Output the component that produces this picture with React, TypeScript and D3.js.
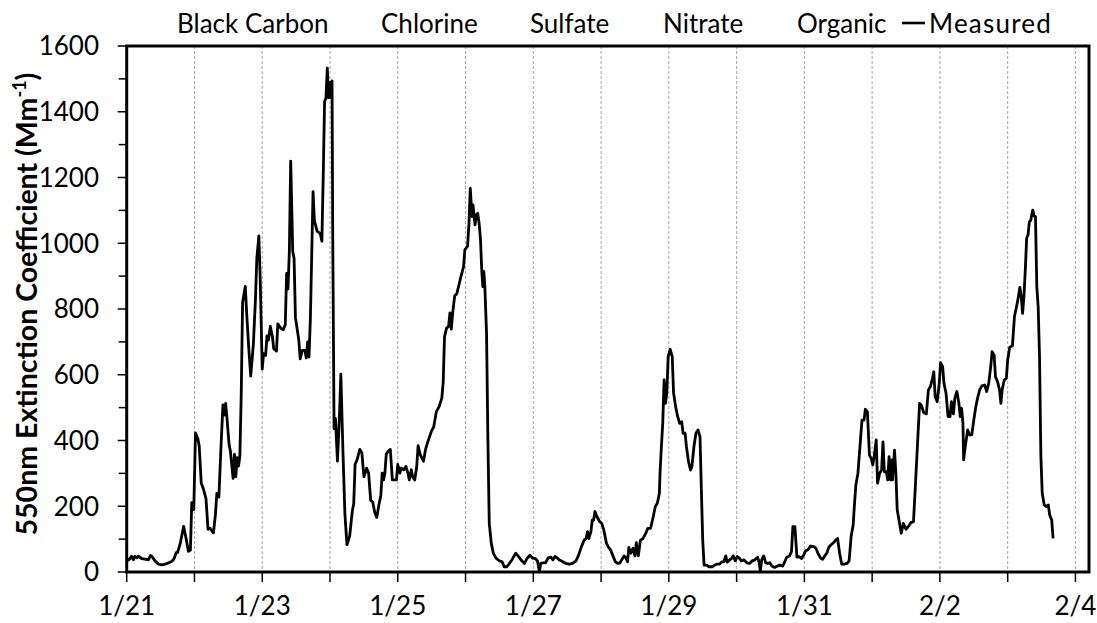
import React from 'react';
import * as d3 from 'd3';

// Time axis is expressed in days after 1/21 00:00.
const dayOffsets = [
  0.01, 0.05, 0.07, 0.10, 0.12, 0.15, 0.17, 0.22, 0.27, 0.32, 0.35, 0.37, 0.42, 0.47, 0.52, 0.57, 0.62, 0.67, 0.70, 0.73,
  0.75, 0.79, 0.84, 0.88, 0.91, 0.94, 0.96, 0.99,
  1.015, 1.05, 1.07, 1.10, 1.13, 1.17, 1.20, 1.23, 1.26, 1.28, 1.31, 1.33, 1.36, 1.39, 1.42, 1.44, 1.46, 1.48, 1.51, 1.53,
  1.57, 1.59, 1.61, 1.63, 1.65, 1.67, 1.69, 1.71, 1.75, 1.77, 1.80, 1.83, 1.87, 1.90, 1.92, 1.95, 1.97, 2.00, 2.02, 2.05,
  2.07, 2.09, 2.12, 2.15, 2.17, 2.21, 2.23, 2.27, 2.31, 2.34, 2.36, 2.38, 2.40, 2.42, 2.45, 2.47, 2.49, 2.51, 2.54, 2.56,
  2.59, 2.63, 2.65, 2.67, 2.69, 2.71, 2.75, 2.77, 2.81, 2.84, 2.86, 2.88, 2.90, 2.92, 2.94, 2.96, 2.98, 3.00, 3.02, 3.03,
  3.04, 3.06, 3.08, 3.11, 3.14, 3.16, 3.19, 3.22, 3.25, 3.29, 3.33, 3.35, 3.37, 3.40, 3.44, 3.47, 3.50, 3.52, 3.54, 3.57,
  3.60, 3.63, 3.66, 3.69, 3.72, 3.75, 3.77, 3.79, 3.81, 3.83, 3.86, 3.89, 3.92, 3.96, 3.98, 4.00, 4.03, 4.05, 4.09, 4.12,
  4.15, 4.17, 4.20, 4.22, 4.25, 4.28, 4.30, 4.33, 4.38, 4.41, 4.44, 4.50, 4.53, 4.57, 4.61, 4.65, 4.67, 4.69, 4.72, 4.75,
  4.77, 4.79, 4.81, 4.84, 4.87, 4.90, 4.93, 4.97, 4.99, 5.03, 5.05, 5.07,
  5.095, 5.11, 5.14, 5.16, 5.18, 5.20, 5.22, 5.24, 5.255, 5.27, 5.285, 5.31, 5.33, 5.35, 5.38, 5.41, 5.45, 5.50, 5.54, 5.57,
  5.61, 5.64, 5.69, 5.74, 5.79, 5.83, 5.87, 5.91, 5.95, 5.99, 6.03, 6.06, 6.09, 6.11, 6.14, 6.18, 6.22, 6.26, 6.29, 6.32,
  6.35, 6.38, 6.43, 6.48, 6.53, 6.58, 6.63, 6.67, 6.71, 6.75, 6.78, 6.80, 6.82, 6.85, 6.87, 6.89, 6.91, 6.94, 6.98, 7.01,
  7.04, 7.08, 7.11, 7.14, 7.17, 7.21, 7.25, 7.28, 7.31, 7.34, 7.37, 7.39, 7.41, 7.44, 7.47, 7.50, 7.52, 7.55, 7.58, 7.62,
  7.66, 7.69, 7.73, 7.77, 7.80, 7.83, 7.86, 7.87, 7.89, 7.91, 7.93, 7.95, 7.97, 7.99, 8.02, 8.05, 8.07, 8.10, 8.13, 8.16,
  8.19, 8.21, 8.24, 8.26, 8.29, 8.32, 8.34, 8.37, 8.40, 8.43, 8.46, 8.48, 8.50, 8.52, 8.56, 8.59, 8.64, 8.67, 8.71, 8.75,
  8.78, 8.81, 8.84, 8.86, 8.90, 8.93, 8.95, 8.98, 9.01, 9.04, 9.07, 9.11, 9.15, 9.19, 9.23, 9.27, 9.31, 9.33, 9.35, 9.37,
  9.40, 9.43, 9.46, 9.49, 9.52, 9.56, 9.60, 9.64, 9.68, 9.71, 9.74, 9.78,
  9.81, 9.83, 9.86, 9.89, 9.92, 9.96, 9.99, 10.02, 10.05, 10.09, 10.14, 10.17, 10.20, 10.24, 10.27, 10.30, 10.33, 10.36,
  10.39, 10.43, 10.46, 10.49, 10.52, 10.55, 10.59, 10.63, 10.66, 10.69, 10.72, 10.74, 10.76, 10.79, 10.82, 10.85, 10.88,
  10.90, 10.93, 10.96, 10.99, 11.01, 11.03, 11.06, 11.08, 11.11, 11.14, 11.16, 11.18, 11.21, 11.23, 11.25, 11.27, 11.29,
  11.30, 11.33, 11.35, 11.37, 11.40, 11.43, 11.46, 11.50, 11.54, 11.57, 11.61, 11.64, 11.67, 11.70, 11.73, 11.76, 11.80,
  11.83, 11.86, 11.89, 11.91, 11.93, 11.96, 11.99, 12.01, 12.04, 12.06, 12.09, 12.12, 12.15, 12.17, 12.20, 12.22, 12.25,
  12.28, 12.30, 12.32, 12.34, 12.35, 12.38, 12.41, 12.44, 12.47, 12.50, 12.53, 12.56, 12.59, 12.62, 12.66, 12.69, 12.72,
  12.75, 12.77, 12.80, 12.82, 12.85, 12.88, 12.90, 12.92, 12.95, 12.98, 13.00, 13.03, 13.07, 13.10, 13.13, 13.15, 13.18,
  13.20, 13.22, 13.24, 13.26, 13.28, 13.30, 13.32, 13.34, 13.37, 13.39, 13.41, 13.43, 13.45, 13.47, 13.49, 13.51, 13.54,
  13.57, 13.60, 13.62, 13.65, 13.67,
];

// Measured 550 nm extinction coefficient, Mm^-1
const extinction = [
  35, 41, 48, 37, 48, 43, 48, 41, 39, 37, 50, 48, 33, 24, 22, 24, 28, 33, 41, 59,
  59, 87, 139, 98, 63, 67, 211, 190,
  423, 405, 384, 270, 254, 223, 130, 133, 124, 119, 176, 239, 228, 373, 508, 477, 513, 467, 389, 368,
  285, 358, 290, 348, 322, 353, 539, 820, 869, 788, 685, 596, 695, 830, 954, 1022, 892, 617, 664, 659,
  718, 705, 747, 716, 679, 672, 755, 742, 737, 752, 908, 861, 975, 1250, 975, 954, 773, 747, 705, 648,
  674, 674, 651, 700, 654, 768, 1157, 1068, 1037, 1032, 1027, 1006, 1203, 1431, 1442, 1533, 1442, 1489, 1442, 1494,
  1037, 436, 467, 337, 477, 602, 373, 176, 83, 109, 187, 207, 327, 342, 373, 363, 290, 301, 316, 301,
  218, 213, 182, 166, 202, 233, 301, 280, 301, 358, 368, 373, 280, 280, 280, 327, 301, 316, 311, 321,
  301, 280, 311, 290, 280, 321, 384, 358, 337, 373, 394, 430, 441, 488, 503, 529, 576, 716, 742, 747,
  788, 739, 788, 840, 846, 871, 897, 928, 980, 991, 1058, 1167,
  1081, 1117, 1056, 1086, 1091, 1061, 1015, 914, 868, 914, 868, 726, 402, 148, 87, 57, 42, 34, 31, 16,
  16, 24, 39, 57, 45, 34, 26, 42, 51, 42, 41, 34, 2, 26, 28, 28, 43, 45, 37, 47,
  43, 37, 32, 26, 24, 26, 34, 52, 77, 97, 102, 123, 102, 123, 158, 158, 184, 168, 153, 148,
  128, 87, 75, 67, 52, 31, 26, 28, 39, 49, 42, 31, 75, 57, 72, 49, 89, 49, 97, 102,
  118, 133, 133, 168, 199, 209, 239, 300, 381, 452, 584, 513, 544, 655, 677, 655, 544, 503, 473, 452,
  457, 422, 422, 381, 336, 310, 320, 381, 422, 432, 412, 249, 97, 21, 21, 16, 16, 20, 24, 24,
  31, 31, 49, 30, 37, 42, 49, 34, 47, 42, 34, 37, 28, 26, 34, 37, 45, 31, 2, 37,
  49, 28, 26, 28, 18, 14, 18, 21, 18, 31, 45, 49,
  62, 138, 138, 45, 47, 41, 52, 65, 67, 79, 77, 72, 57, 42, 39, 49, 57, 75,
  82, 89, 97, 102, 57, 24, 24, 26, 34, 108, 143, 209, 265, 300, 381, 462, 462,
  495, 487, 356, 343, 326, 351, 402, 270, 300, 310, 396, 305, 305, 280, 351, 280, 341,
  280, 371, 300, 189, 153, 118, 148, 130, 140, 150, 153, 270, 391, 513, 505, 485, 481,
  554, 564, 589, 609, 533, 518, 574, 637, 625, 574, 544, 473, 473, 518, 481, 528, 549,
  513, 473, 498, 452, 341, 391, 432, 417, 417, 462, 503, 533, 556, 566, 569, 549, 574,
  625, 670, 660, 594, 579, 554, 513, 556, 584, 589, 645, 684, 688, 777, 807, 827, 866,
  838, 787, 838, 919, 1015, 1025, 1065, 1070, 1101, 1083, 1081, 868, 807, 655, 351, 239, 204,
  199, 204, 173, 158, 102,
];

const xTickDays = [0, 2, 4, 6, 8, 10, 12, 14];
const xTickLabels = ['1/21', '1/23', '1/25', '1/27', '1/29', '1/31', '2/2', '2/4'];
const gridDays = d3.range(1, 15);
const yTickValues = [0, 200, 400, 600, 800, 1000, 1200, 1400, 1600];
const yMinorValues = [100, 300, 500, 700, 900, 1100, 1300, 1500];
const componentNames = ['Black Carbon', 'Chlorine', 'Sulfate', 'Nitrate', 'Organic'];
const measuredName = 'Measured';

const FONT = 'Lato, "Open Sans", sans-serif';

export default function App() {
  const width = 1097;
  const height = 623;
  const plot = { left: 126.7, right: 1089, top: 46, bottom: 572 };

  const x = d3.scaleLinear().domain([0, 14.2]).range([plot.left, plot.right]);
  const y = d3.scaleLinear().domain([0, 1600]).range([plot.bottom, plot.top]);

  const line = d3
    .line<number>()
    .x((_, i) => x(dayOffsets[i]))
    .y((v) => y(v));

  const legendX = [177, 381, 530, 663, 797];
  const legendBaseline = 33;

  return (
    <svg
      width={width}
      height={height}
      style={{ position: 'absolute', left: 0, top: 0, background: '#fff' }}
      fontFamily={FONT}
    >
      <rect x={0} y={0} width={width} height={height} fill="#fff" />

      {/* day gridlines */}
      {gridDays.map((d) => (
        <line
          key={`g${d}`}
          x1={x(d)}
          x2={x(d)}
          y1={plot.top}
          y2={plot.bottom}
          stroke="#a6a6a6"
          strokeWidth={1}
          strokeDasharray="3,2"
        />
      ))}

      {/* measured series */}
      <path d={line(extinction) ?? ''} fill="none" stroke="#000" strokeWidth={2.8} strokeLinejoin="round" />

      {/* plot frame */}
      <rect
        x={plot.left}
        y={plot.top}
        width={plot.right - plot.left}
        height={plot.bottom - plot.top}
        fill="none"
        stroke="#000"
        strokeWidth={3}
      />

      {/* y axis ticks and labels */}
      {yTickValues.map((v) => (
        <g key={`y${v}`}>
          <line x1={plot.left - 9} x2={plot.left} y1={y(v)} y2={y(v)} stroke="#000" strokeWidth={1.5} />
          <text x={99} y={y(v) + 9.3} textAnchor="end" fontSize={26} fill="#000">
            {v}
          </text>
        </g>
      ))}
      {yMinorValues.map((v) => (
        <line key={`ym${v}`} x1={plot.left - 8} x2={plot.left} y1={y(v)} y2={y(v)} stroke="#000" strokeWidth={1.5} />
      ))}

      {/* x axis ticks and labels */}
      {d3.range(0, 15).map((d) => (
        <line key={`xt${d}`} x1={x(d)} x2={x(d)} y1={plot.bottom} y2={plot.bottom + 10} stroke="#000" strokeWidth={1.5} />
      ))}
      {xTickDays.map((d, i) => (
        <text key={`xl${d}`} x={x(d)} y={615} textAnchor="middle" fontSize={26} fill="#000">
          {xTickLabels[i]}
        </text>
      ))}

      {/* y axis title */}
      <text
        transform={`translate(37, ${304}) rotate(-90)`}
        textAnchor="middle"
        fontSize={28.5}
        fontWeight="bold"
        fill="#000"
      >
        550nm Extinction Coefficient (Mm
        <tspan fontSize={18} dy={-11}>
          -1
        </tspan>
        <tspan dy={11}>)</tspan>
      </text>

      {/* legend */}
      {componentNames.map((name, i) => (
        <text key={name} x={legendX[i]} y={legendBaseline} fontSize={26} fill="#000">
          {name}
        </text>
      ))}
      <line x1={902} x2={925} y1={23} y2={23} stroke="#000" strokeWidth={2.6} />
      <text x={929} y={legendBaseline} fontSize={26} fill="#000" letterSpacing={1.2}>
        {measuredName}
      </text>
    </svg>
  );
}
